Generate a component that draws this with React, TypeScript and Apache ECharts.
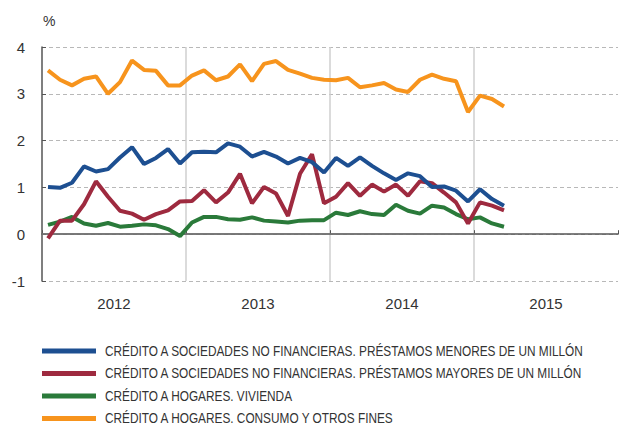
import React, { useEffect, useRef } from "react";
import * as echarts from "echarts";

const years = ["2012", "2013", "2014", "2015"];
const yTicks = [-1, 0, 1, 2, 3, 4];

const seriesNames = [
  "CRÉDITO A SOCIEDADES NO FINANCIERAS. PRÉSTAMOS MENORES DE UN MILLÓN",
  "CRÉDITO A SOCIEDADES NO FINANCIERAS. PRÉSTAMOS MAYORES DE UN MILLÓN",
  "CRÉDITO A HOGARES. VIVIENDA",
  "CRÉDITO A HOGARES. CONSUMO Y OTROS FINES",
];

// Monthly values, Jan 2012 - Mar 2015
const menores = [
  1.01, 0.99, 1.1, 1.45, 1.34, 1.39, 1.64, 1.86, 1.5, 1.63, 1.82, 1.51,
  1.75, 1.76, 1.75, 1.94, 1.87, 1.66, 1.76, 1.66, 1.51, 1.63, 1.54, 1.32,
  1.63, 1.46, 1.64, 1.46, 1.3, 1.16, 1.3, 1.24, 1.01, 1.02, 0.93, 0.7,
  0.96, 0.75, 0.61,
];
const mayores = [
  -0.09, 0.29, 0.29, 0.64, 1.13, 0.8, 0.5, 0.44, 0.31, 0.43, 0.51, 0.7,
  0.71, 0.94, 0.68, 0.89, 1.29, 0.66, 1.01, 0.87, 0.39, 1.29, 1.71, 0.66,
  0.8, 1.09, 0.82, 1.06, 0.91, 1.06, 0.82, 1.13, 1.09, 0.89, 0.68, 0.23,
  0.68, 0.61, 0.51,
];
const vivienda = [
  0.2, 0.27, 0.37, 0.23, 0.18, 0.24, 0.16, 0.18, 0.21, 0.19, 0.11, -0.04,
  0.25, 0.37, 0.37, 0.32, 0.31, 0.36, 0.29, 0.27, 0.25, 0.29, 0.3, 0.3,
  0.46, 0.41, 0.49, 0.43, 0.41, 0.63, 0.5, 0.44, 0.61, 0.57, 0.43, 0.32,
  0.36, 0.23, 0.16,
];
const consumo = [
  3.5, 3.3, 3.18, 3.32, 3.37, 3.0, 3.25, 3.71, 3.51, 3.49, 3.18, 3.18,
  3.39, 3.5, 3.29, 3.37, 3.63, 3.27, 3.64, 3.7, 3.51, 3.43, 3.34, 3.3,
  3.29, 3.34, 3.14, 3.18, 3.23, 3.09, 3.04, 3.3, 3.41, 3.32, 3.27, 2.61,
  2.96, 2.89, 2.73,
];

const colors = ["#1d4f91", "#9e2a3f", "#2a7a3a", "#f7941d"];
const allValues = [menores, mayores, vivienda, consumo];

export default function App() {
  const ref = useRef<HTMLDivElement>(null);
  useEffect(() => {
    if (!ref.current) return;
    const chart = echarts.init(ref.current, null, { renderer: "svg" });
    const lastX = menores.length - 0.5;
    const series: any[] = allValues.map((vals, k) => ({
      name: seriesNames[k],
      type: "line",
      xAxisIndex: 0,
      data: vals.map((v, i) => [i + 0.5, v]),
      showSymbol: false,
      symbol: "none",
      lineStyle: { width: 4, color: colors[k] },
      itemStyle: { color: colors[k] },
      z: 10 - k,
      ...(k === 0
        ? {
            markLine: {
              silent: true,
              symbol: "none",
              label: { show: false },
              lineStyle: { color: "#777", type: "solid", width: 1.5 },
              z: 1,
              data: [[{ coord: [0, 0] }, { coord: [lastX, 0] }]],
            },
          }
        : {}),
    }));
    const legendRows = [351, 373.5, 396, 418.5];
    const legendGraphics: any[] = [];
    seriesNames.forEach((name, k) => {
      legendGraphics.push({
        type: "rect",
        shape: { x: 42, y: legendRows[k] - 2.5, width: 54, height: 5 },
        style: { fill: colors[k] },
        silent: true,
      });
      legendGraphics.push({
        type: "text",
        x: 105,
        y: legendRows[k],
        scaleX: 0.845,
        style: {
          text: name,
          fontSize: 14,
          fontFamily: "Liberation Sans",
          fill: "#333",
          verticalAlign: "middle",
          align: "left",
        },
        silent: true,
      });
    });
    chart.setOption({
      animation: false,
      title: {
        text: "%",
        left: 38,
        top: 9,
        textStyle: { fontSize: 14, fontWeight: "normal", color: "#333", fontFamily: "Liberation Sans" },
      },
      grid: { left: 42, right: 1, top: 47, bottom: 149, containLabel: false },
      graphic: legendGraphics,
      xAxis: [
        {
          type: "value",
          min: 0,
          max: 48,
          interval: 12,
          axisLine: { show: true, lineStyle: { color: "#555", width: 1.5 } },
          axisTick: { show: true, inside: true, length: 4, lineStyle: { color: "#555" } },
          axisLabel: { show: false },
          splitLine: {
            show: true,
            showMinLine: false,
            showMaxLine: false,
            lineStyle: { color: "#cfcfcf", width: 1.5 },
          },
        },
        {
          type: "category",
          data: years,
          position: "bottom",
          boundaryGap: true,
          axisLine: { show: false },
          axisTick: { show: false },
          splitLine: { show: false },
          axisLabel: { fontSize: 15, color: "#333", margin: 15, fontFamily: "Liberation Sans" },
        },
      ],
      yAxis: {
        type: "value",
        min: yTicks[0],
        max: yTicks[yTicks.length - 1],
        interval: 1,
        axisLine: { show: true, lineStyle: { color: "#555", width: 1.5 } },
        axisTick: { show: true, inside: true, length: 4, lineStyle: { color: "#555" } },
        axisLabel: { fontSize: 15, color: "#333", margin: 17, fontFamily: "Liberation Sans" },
        splitLine: { show: true, lineStyle: { color: "#b8b8b8", type: [4, 3], width: 1 } },
      },
      series,
    });
    return () => chart.dispose();
  }, []);
  return <div ref={ref} style={{ width: 619, height: 430, position: "absolute", left: 0, top: 0 }} />;
}
